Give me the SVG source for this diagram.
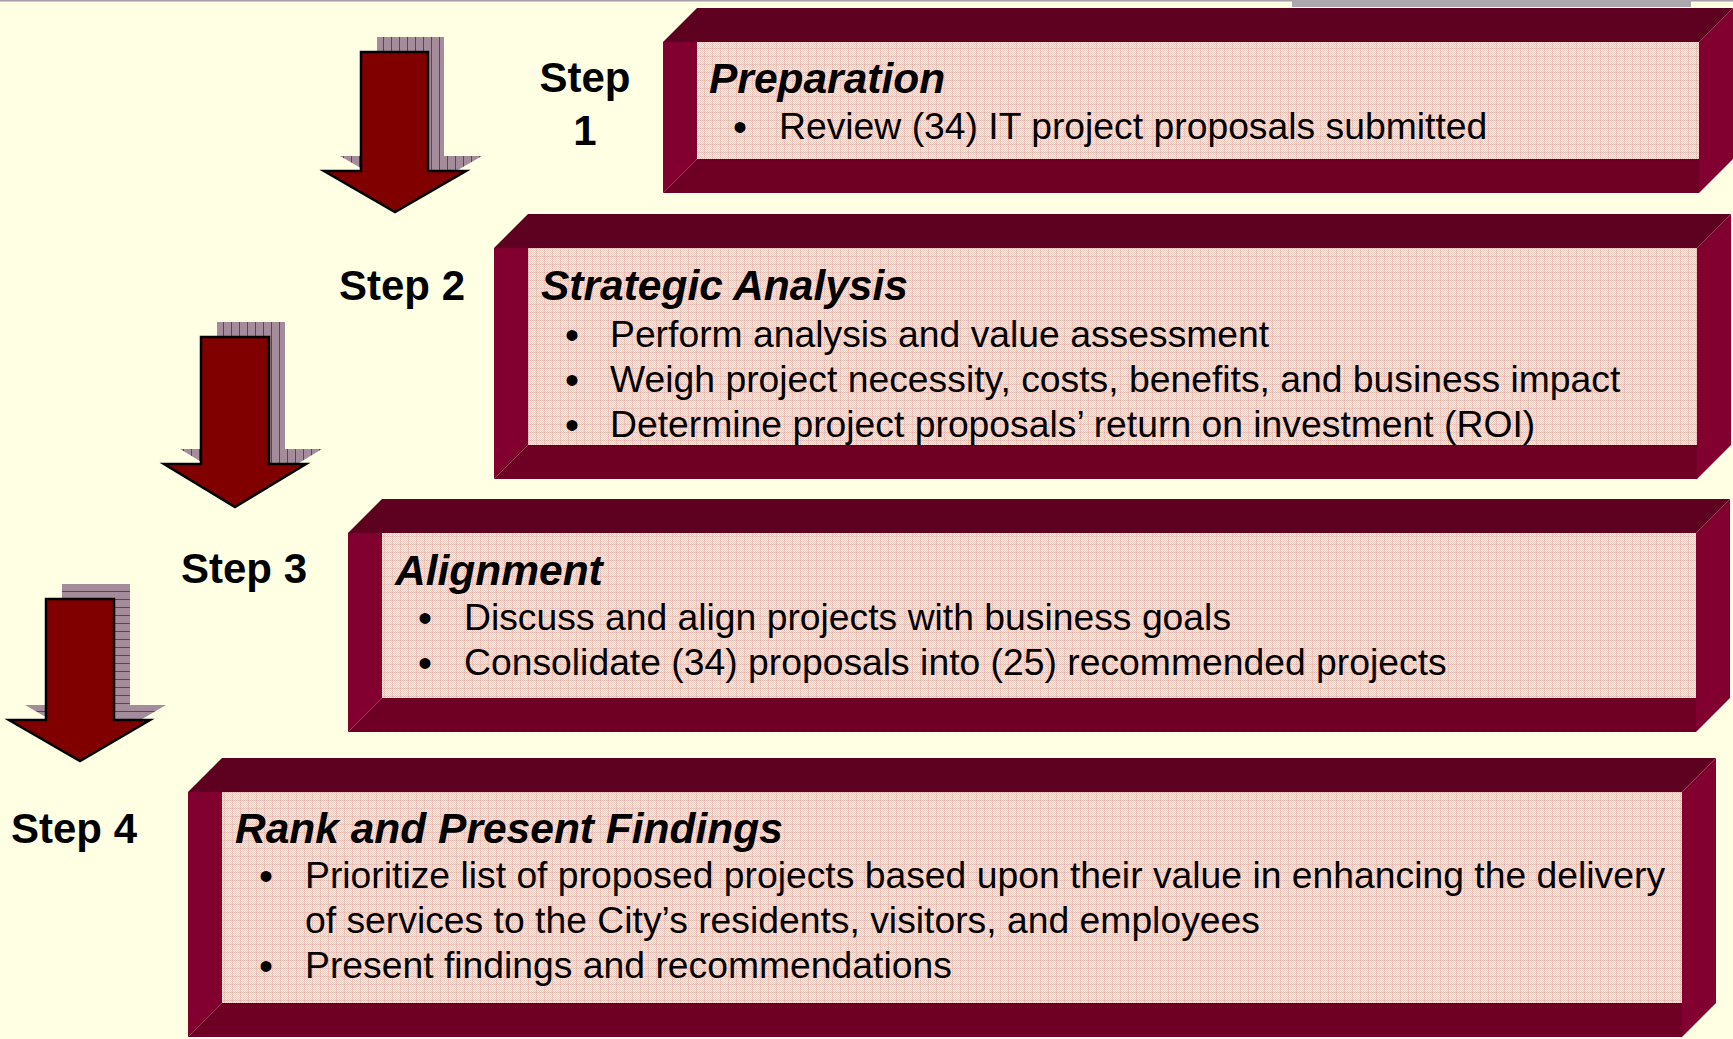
<svg xmlns="http://www.w3.org/2000/svg" width="1733" height="1039" viewBox="0 0 1733 1039">
<defs>
<pattern id="chk" width="2" height="2" patternUnits="userSpaceOnUse">
<rect width="2" height="2" fill="#FBEEDD"/>
<rect width="1" height="1" fill="#EDCABD"/>
<rect x="1" y="1" width="1" height="1" fill="#EDCABD"/>
</pattern>
<pattern id="face" width="8" height="8" patternUnits="userSpaceOnUse">
<rect width="8" height="8" fill="url(#chk)"/>
<rect x="0" y="0" width="8" height="1" fill="#D99A9A" opacity="0.35"/>
<rect x="0" y="0" width="1" height="8" fill="#D99A9A" opacity="0.35"/>
</pattern>
<pattern id="bot" width="2" height="2" patternUnits="userSpaceOnUse">
<rect width="2" height="2" fill="#5A001E"/>
<rect width="1" height="1" fill="#720028"/>
<rect x="1" y="1" width="1" height="1" fill="#720028"/>
</pattern>
<pattern id="shv" width="8" height="8" patternUnits="userSpaceOnUse">
<rect width="8" height="8" fill="#A48C9A"/>
<rect x="7" width="1" height="8" fill="#6A3A60"/>
</pattern>
<pattern id="shh" width="8" height="8" patternUnits="userSpaceOnUse">
<rect width="8" height="8" fill="#A48C9A"/>
<rect y="7" width="8" height="1" fill="#6A3A60"/>
</pattern>
</defs>
<style>
.top{fill:#5E0020}
.side{fill:#820030}
.bot{fill:url(#bot)}
.front{fill:url(#face)}
.title{font-family:"Liberation Sans",Arial,sans-serif;font-weight:bold;font-style:italic;font-size:42.5px;fill:#000}
.body{font-family:"Liberation Sans",Arial,sans-serif;font-size:37.3px;fill:#000}
.bul{font-family:"Liberation Sans",Arial,sans-serif;font-size:40px;fill:#000}
.step{font-family:"Liberation Sans",Arial,sans-serif;font-weight:bold;font-size:42px;fill:#000}
.arrow{fill:#800000;stroke:#000;stroke-width:2.5;stroke-linejoin:miter}
</style>
<rect width="1733" height="1039" fill="#FFFFE3"/>
<rect x="0" y="0" width="1733" height="1.5" fill="#A89CA8"/>
<rect x="1292" y="0" width="399" height="7" fill="#ACA8AE"/>

<g id="connectors">
<polygon fill="url(#shv)" points="377,37 444,37 444,156 482,156 411,197 340,156 377,156"/>
<polygon class="arrow" points="361,52 428,52 428,171 466,171 395,212 324,171 361,171"/>
<polygon fill="url(#shv)" points="217,322 285,322 285,449 322,449 251,492 180,449 217,449"/>
<polygon class="arrow" points="201,337 269,337 269,464 306,464 235,507 164,464 201,464"/>
<polygon fill="url(#shh)" points="62,584 130,584 130,705 166,705 96,746 25,705 62,705"/>
<polygon class="arrow" points="46,599 114,599 114,720 150,720 80,761 9,720 46,720"/>
</g>

<g id="step1-label">
<text class="step" x="585" y="92" text-anchor="middle">Step</text>
<text class="step" x="585" y="145" text-anchor="middle">1</text>
</g>
<g id="step2-label"><text class="step" x="339" y="300">Step 2</text></g>
<g id="step3-label"><text class="step" x="181" y="583">Step 3</text></g>
<g id="step4-label"><text class="step" x="11" y="843">Step 4</text></g>

<g id="box1">
<polygon class="top" points="697,8 1733,8 1699,42 663,42"/>
<polygon class="side" points="663,42 697,42 697,159 663,193"/>
<polygon class="side" points="1699,42 1733,8 1733,159 1699,193"/>
<polygon class="bot" points="663,193 697,159 1699,159 1699,193"/>
<rect class="front" x="697" y="42" width="1002" height="117"/>
<text class="title" x="709" y="93">Preparation</text>
<text class="bul" x="740" y="140.5" text-anchor="middle">•</text>
<text class="body" x="779" y="139">Review (34) IT project proposals submitted</text>
</g>

<g id="box2">
<polygon class="top" points="528,214 1731,214 1697,248 494,248"/>
<polygon class="side" points="494,248 528,248 528,445 494,479"/>
<polygon class="side" points="1697,248 1731,214 1731,445 1697,479"/>
<polygon class="bot" points="494,479 528,445 1697,445 1697,479"/>
<rect class="front" x="528" y="248" width="1169" height="197"/>
<text class="title" x="541" y="300">Strategic Analysis</text>
<text class="bul" x="572" y="348.5" text-anchor="middle">•</text>
<text class="body" x="610" y="347">Perform analysis and value assessment</text>
<text class="bul" x="572" y="393.5" text-anchor="middle">•</text>
<text class="body" x="610" y="392">Weigh project necessity, costs, benefits, and business impact</text>
<text class="bul" x="572" y="438.5" text-anchor="middle">•</text>
<text class="body" x="610" y="437">Determine project proposals’ return on investment (ROI)</text>
</g>

<g id="box3">
<polygon class="top" points="382,499 1730,499 1696,533 348,533"/>
<polygon class="side" points="348,533 382,533 382,698 348,732"/>
<polygon class="side" points="1696,533 1730,499 1730,698 1696,732"/>
<polygon class="bot" points="348,732 382,698 1696,698 1696,732"/>
<rect class="front" x="382" y="533" width="1314" height="165"/>
<text class="title" x="395" y="585">Alignment</text>
<text class="bul" x="425" y="631.5" text-anchor="middle">•</text>
<text class="body" x="464" y="630">Discuss and align projects with business goals</text>
<text class="bul" x="425" y="676.5" text-anchor="middle">•</text>
<text class="body" x="464" y="675">Consolidate (34) proposals into (25) recommended projects</text>
</g>

<g id="box4">
<polygon class="top" points="222,758 1716,758 1682,792 188,792"/>
<polygon class="side" points="188,792 222,792 222,1003 188,1037"/>
<polygon class="side" points="1682,792 1716,758 1716,1003 1682,1037"/>
<polygon class="bot" points="188,1037 222,1003 1682,1003 1682,1037"/>
<rect class="front" x="222" y="792" width="1460" height="211"/>
<text class="title" x="235" y="843">Rank and Present Findings</text>
<text class="bul" x="266" y="889.5" text-anchor="middle">•</text>
<text class="body" x="305" y="888">Prioritize list of proposed projects based upon their value in enhancing the delivery</text>
<text class="body" x="305" y="933">of services to the City’s residents, visitors, and employees</text>
<text class="bul" x="266" y="979.5" text-anchor="middle">•</text>
<text class="body" x="305" y="978">Present findings and recommendations</text>
</g>
</svg>
